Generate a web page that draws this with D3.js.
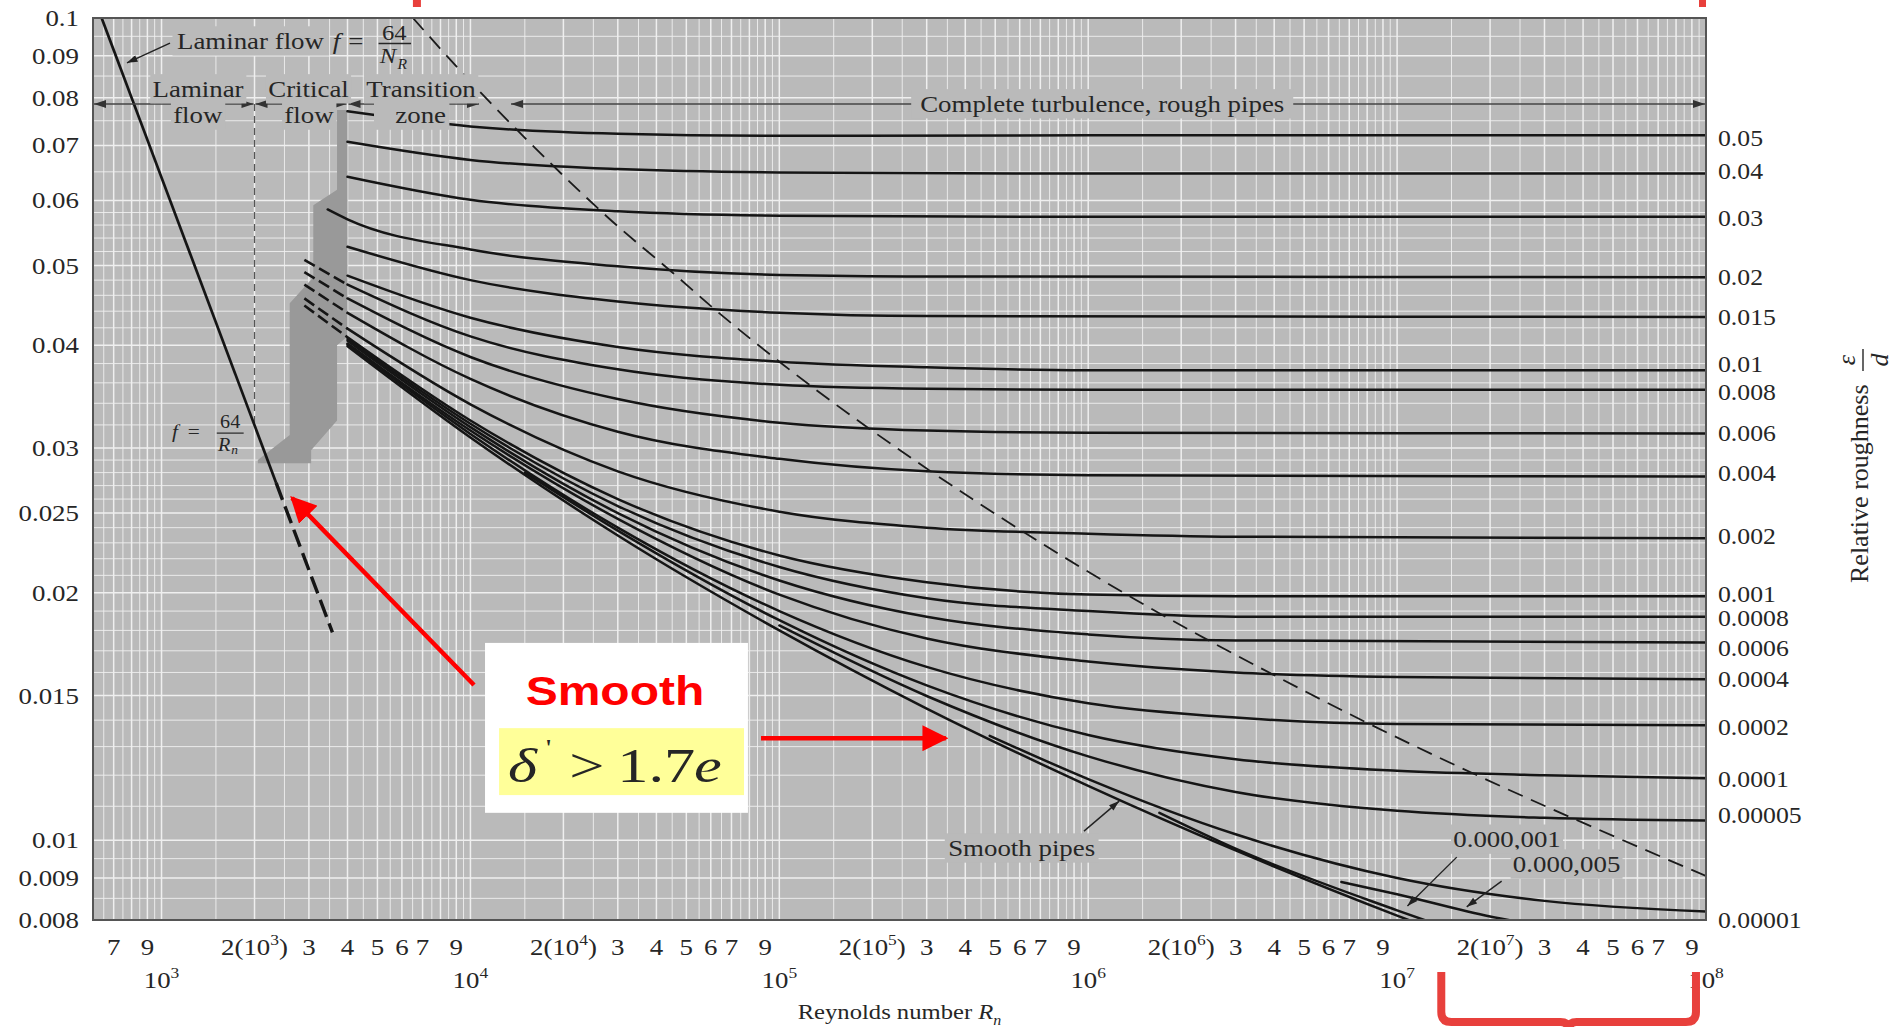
<!DOCTYPE html>
<html>
<head>
<meta charset="utf-8">
<title>Moody diagram</title>
<script src="https://d3js.org/d3.v7.min.js"></script>
<style>
  body { margin: 0; background: #fff; }
  text { font-family: "Liberation Serif", "Times New Roman", serif; fill: #262626; }
</style>
</head>
<body>
<svg id="chart" width="1895" height="1027"></svg>
<script>
// ---- values ----
const roughLabels = ["0.05", "0.04", "0.03", "0.02", "0.015", "0.01", "0.008", "0.006", "0.004",
  "0.002", "0.001", "0.0008", "0.0006", "0.0004", "0.0002", "0.0001", "0.00005", "0.00001",
  "0.000,005", "0.000,001", "smooth"];

const curveRe = [
  [4e3, 1e4, 3e4, 1e5, 1e6, 1e8],
  [4e3, 1e4, 3e4, 1e5, 1e6, 1e8],
  [4e3, 1e4, 3e4, 1e5, 1e6, 1e8],
  [3450, 4e3, 1e4, 3e4, 1e5, 3e5, 1e8],
  [4e3, 1e4, 3e4, 1e5, 3e5, 1e8],
  [4e3, 1e4, 3e4, 1e5, 3e5, 1e6, 1e8],
  [4e3, 1e4, 3e4, 1e5, 3e5, 1e6, 1e8],
  [4e3, 1e4, 3e4, 1e5, 3e5, 1e6, 1e8],
  [4e3, 1e4, 3e4, 1e5, 3e5, 1e6, 1e8],
  [4e3, 1e4, 3e4, 1e5, 3e5, 1e6, 3e6, 1e8],
  [4e3, 1e4, 3e4, 1e5, 3e5, 1e6, 3e6, 1e8],
  [4e3, 1e4, 3e4, 1e5, 3e5, 1e6, 3e6, 1e8],
  [4e3, 1e4, 3e4, 1e5, 3e5, 1e6, 3e6, 1e8],
  [4e3, 1e4, 3e4, 1e5, 3e5, 1e6, 3e6, 1e7, 1e8],
  [4e3, 1e4, 3e4, 1e5, 3e5, 1e6, 3e6, 1e7, 1e8],
  [1.5e4, 3e4, 1e5, 3e5, 1e6, 3e6, 1e7, 3e7, 1e8],
  [1e5, 3e5, 1e6, 3e6, 1e7, 3e7, 1e8],
  [4.8e5, 1e6, 3e6, 1e7, 3e7, 1e8],
  [6.6e6, 1e7, 2e7, 2.5e7],
  [1.7e6, 3e6, 1e7, 1.4e7],
  [4e3, 1e4, 3e4, 1e5, 3e5, 1e6, 3e6, 1e7, 1.2e7]
];
const curveF = [
  [0.0770, 0.0738, 0.0723, 0.0719, 0.0720, 0.0720],
  [0.0707, 0.0672, 0.0655, 0.0649, 0.0647, 0.0647],
  [0.0641, 0.0601, 0.0582, 0.0575, 0.0573, 0.0573],
  [0.0585, 0.0569, 0.0523, 0.0499, 0.0487, 0.0485, 0.0484],
  [0.0527, 0.0480, 0.0452, 0.0438, 0.0434, 0.0433],
  [0.0486, 0.0432, 0.0398, 0.0382, 0.0376, 0.0373, 0.0373],
  [0.0474, 0.0410, 0.0374, 0.0358, 0.0354, 0.0353, 0.0353],
  [0.0456, 0.0387, 0.0344, 0.0322, 0.0315, 0.0313, 0.03125],
  [0.0438, 0.0364, 0.0314, 0.0291, 0.0281, 0.0278, 0.0277],
  [0.0419, 0.0339, 0.0281, 0.0251, 0.0240, 0.0236, 0.0234, 0.0233],
  [0.0409, 0.0324, 0.0260, 0.0222, 0.0206, 0.0199, 0.0198, 0.0198],
  [0.0407, 0.0321, 0.0255, 0.0215, 0.0197, 0.0190, 0.0187, 0.0187],
  [0.0405, 0.0318, 0.0250, 0.0207, 0.0187, 0.0178, 0.0175, 0.0174],
  [0.0402, 0.0315, 0.0246, 0.0199, 0.0176, 0.0165, 0.0160, 0.0158, 0.0157],
  [0.0401, 0.0312, 0.0240, 0.0190, 0.01625, 0.01468, 0.0141, 0.01385, 0.0138],
  [0.0280, 0.0238, 0.01852, 0.01543, 0.01343, 0.01255, 0.01215, 0.0120, 0.0119],
  [0.01825, 0.01498, 0.01265, 0.01145, 0.01086, 0.01065, 0.01057],
  [0.0134, 0.01187, 0.01017, 0.0090, 0.00844, 0.00819],
  [0.0089, 0.0086, 0.00808, 0.00795],
  [0.0108, 0.00977, 0.00822, 0.00786],
  [0.0399, 0.0309, 0.02348, 0.0180, 0.01446, 0.01165, 0.00972, 0.0081, 0.00789]
];

// dashed pieces of the curves inside the critical zone
const critRe = [2900, 4000];
const critF = [[0.0508, 0.0474], [0.0491, 0.0456], [0.0474, 0.0438], [0.0456, 0.0419], [0.0447, 0.0409]];

// laminar line f = 64/Re
const laminarRe = [640, 2350];
const laminarF = [0.1, 0.0272];
const laminarDashRe = [2350, 3575];
const laminarDashF = [0.0272, 0.0179];

// dashed boundary of complete turbulence
const boundaryRe = [6514, 9850, 14950, 19660, 27870, 45170, 63710, 102700, 296600, 653600,
  1428000, 3970000, 8530000, 18300000, 38900000, 1e8];
const boundaryF = [0.1, 0.0842, 0.0716, 0.0647, 0.0572, 0.049, 0.0438, 0.0379, 0.0284, 0.0234,
  0.0196, 0.0159, 0.01373, 0.01198, 0.01055, 0.00905];

// shaded critical zone outline
const zoneRe = [4000, 4000, 3700, 3700, 3050, 3050, 2050, 2050, 2600, 2600, 3100, 3100, 3700, 3700];
const zoneF = [0.0773, 0.041, 0.040, 0.0324, 0.0298, 0.02875, 0.02875, 0.029, 0.0311, 0.045,
  0.0484, 0.0592, 0.0618, 0.0773];

// axis ticks
const yTickVals = [0.1, 0.09, 0.08, 0.07, 0.06, 0.05, 0.04, 0.03, 0.025, 0.02, 0.015, 0.01, 0.009, 0.008];
const yTickLabels = ["0.1", "0.09", "0.08", "0.07", "0.06", "0.05", "0.04", "0.03", "0.025", "0.02",
  "0.015", "0.01", "0.009", "0.008"];
const xTickVals = [700, 900, 2e3, 3e3, 4e3, 5e3, 6e3, 7e3, 9e3, 2e4, 3e4, 4e4, 5e4, 6e4, 7e4, 9e4,
  2e5, 3e5, 4e5, 5e5, 6e5, 7e5, 9e5, 2e6, 3e6, 4e6, 5e6, 6e6, 7e6, 9e6,
  2e7, 3e7, 4e7, 5e7, 6e7, 7e7, 9e7];
const xTickLabels = ["7", "9", "2(10^3)", "3", "4", "5", "6", "7", "9", "2(10^4)", "3", "4", "5", "6", "7", "9",
  "2(10^5)", "3", "4", "5", "6", "7", "9", "2(10^6)", "3", "4", "5", "6", "7", "9",
  "2(10^7)", "3", "4", "5", "6", "7", "9"];
const xDecadeVals = [1e3, 1e4, 1e5, 1e6, 1e7, 1e8];
const xDecadeLabels = ["10^3", "10^4", "10^5", "10^6", "10^7", "10^8"];

// ---- drawing ----
const svg = d3.select("#chart");
const plotBg = "#bababa";
const x = d3.scaleLog().domain([600, 1e8]).range([93, 1706]);
const y = d3.scaleLog().domain([0.1, 0.008]).range([18, 920]);
const [x0, x1] = x.range(), [y0, y1] = y.range();

svg.append("rect").attr("width", 1895).attr("height", 1027).attr("fill", "#fff");
const defs = svg.append("defs");
defs.append("clipPath").attr("id", "clip").append("rect")
  .attr("x", x0).attr("y", y0).attr("width", x1 - x0).attr("height", y1 - y0);
defs.append("marker").attr("id", "arr").attr("viewBox", "0 0 12 8")
  .attr("refX", 12).attr("refY", 4).attr("markerWidth", 13).attr("markerHeight", 8)
  .attr("markerUnits", "userSpaceOnUse").attr("orient", "auto-start-reverse")
  .append("path").attr("d", "M0,0 L12,4 L0,8 Z").attr("fill", "#333");
defs.append("marker").attr("id", "arrThin").attr("viewBox", "0 0 12 8")
  .attr("refX", 12).attr("refY", 4).attr("markerWidth", 12).attr("markerHeight", 7)
  .attr("markerUnits", "userSpaceOnUse").attr("orient", "auto")
  .append("path").attr("d", "M0,0 L12,4 L0,8 Z").attr("fill", "#222");

svg.append("rect").attr("x", x0).attr("y", y0).attr("width", x1 - x0).attr("height", y1 - y0)
  .attr("fill", plotBg);

// grid
const xGrid = [];
for (let e = 2; e < 8; e++) for (let m = 1; m < 10; m += 0.5) {
  const v = m * Math.pow(10, e);
  if (v >= 600 && v <= 1e8) xGrid.push(v);
}
const yGrid = [];
[[0.008, 0.01, 0.0005], [0.01, 0.03, 0.001], [0.03, 0.06, 0.002], [0.06, 0.1, 0.005]].forEach(([a, b, s]) => {
  for (let v = a; v < b - 1e-9; v += s) yGrid.push(+v.toFixed(5));
});
const isMajor = v => {
  const m = v / Math.pow(10, Math.floor(Math.log10(v) + 1e-9));
  return Math.abs(m - Math.round(m)) < 1e-6;
};
const grid = svg.append("g").attr("stroke", "#efefef");
grid.selectAll("line.v").data(xGrid).join("line").attr("class", "v")
  .attr("x1", d => x(d)).attr("x2", d => x(d)).attr("y1", y0).attr("y2", y1)
  .attr("stroke-width", d => isMajor(d) ? 1.5 : 0.9);
grid.selectAll("line.h").data(yGrid).join("line").attr("class", "h")
  .attr("y1", d => y(d)).attr("y2", d => y(d)).attr("x1", x0).attr("x2", x1)
  .attr("stroke-width", d => yTickVals.includes(d) ? 1.5 : 0.9);

const plotG = svg.append("g").attr("clip-path", "url(#clip)");
const line = d3.line().x(d => x(d[0])).y(d => y(d[1]));
const zip = (a, b) => a.map((v, i) => [v, b[i]]);

// critical zone
plotG.append("path").datum(zip(zoneRe, zoneF)).attr("d", d => line(d) + "Z").attr("fill", "#999");

// vertical dashed line at Re = 2000
plotG.append("line").attr("x1", x(2000)).attr("x2", x(2000)).attr("y1", y(0.0786)).attr("y2", y(0.032))
  .attr("stroke", "#555").attr("stroke-width", 1.3).attr("stroke-dasharray", "7,5");

// roughness curves
const smoothLine = d3.line().x(d => x(d[0])).y(d => y(d[1])).curve(d3.curveMonotoneX);
plotG.selectAll("path.curve").data(curveRe.map((r, i) => zip(r, curveF[i]))).join("path")
  .attr("class", "curve").attr("d", smoothLine).attr("fill", "none")
  .attr("stroke", "#151515").attr("stroke-width", 2.5).attr("stroke-linecap", "round");
plotG.selectAll("path.crit").data(critF.map(f => zip(critRe, f))).join("path")
  .attr("class", "crit").attr("d", line).attr("fill", "none")
  .attr("stroke", "#151515").attr("stroke-width", 2.6).attr("stroke-dasharray", "12,5");

// laminar line
plotG.append("path").datum(zip(laminarRe, laminarF)).attr("d", line)
  .attr("stroke", "#151515").attr("stroke-width", 2.7).attr("fill", "none");
plotG.append("path").datum(zip(laminarDashRe, laminarDashF)).attr("d", line)
  .attr("stroke", "#151515").attr("stroke-width", 3.4).attr("fill", "none").attr("stroke-dasharray", "18,7");

// boundary of complete turbulence
plotG.append("path").datum(zip(boundaryRe, boundaryF)).attr("d", smoothLine)
  .attr("stroke", "#1a1a1a").attr("stroke-width", 1.8).attr("fill", "none").attr("stroke-dasharray", "16,9");

// ---- text helper (the scanned chart is stretched sideways) ----
function parseSup(s) {
  return s.split(/\^(\S)/).map((t, i) => ({ t, sup: i % 2 === 1 })).filter(p => p.t);
}
function addText(parent, px, py, parts, o = {}) {
  const size = o.size || 24, sx = o.sx || 1.12;
  const g = parent.append("g").attr("transform", `translate(${px},${py}) scale(${sx},1)`);
  const t = g.append("text").attr("font-size", size).attr("text-anchor", o.anchor || "start");
  if (o.fill) t.style("fill", o.fill);
  if (o.weight) t.attr("font-weight", o.weight);
  if (o.family) t.style("font-family", o.family);
  let off = 0;
  (typeof parts === "string" ? parseSup(parts) : parts).forEach(p => {
    const target = p.sup ? -size * 0.4 : p.sub ? size * 0.25 : 0;
    const s = t.append("tspan").text(p.t).attr("dy", target - off);
    if (p.sup || p.sub) s.attr("font-size", size * 0.65);
    if (p.it) s.style("font-style", "italic");
    off = target;
  });
  if (o.bg) {
    const b = t.node().getBBox(), pad = o.pad || 3, padL = o.padL || 0;
    g.insert("rect", "text").attr("x", b.x - pad - padL).attr("y", b.y - 1)
      .attr("width", b.width + 2 * pad + padL).attr("height", b.height + 2).attr("fill", plotBg);
  }
  return g;
}

const labels = svg.append("g").attr("clip-path", "url(#clip)");

// band with arrows across the top
const bandF = 0.0786;
[[600, 2000], [2000, 4000], [4000, 10740], [13430, 1e8]].forEach(([a, b]) => {
  labels.append("line").attr("x1", x(a) + 1).attr("x2", x(b) - 1).attr("y1", y(bandF)).attr("y2", y(bandF))
    .attr("stroke", "#444").attr("stroke-width", 1.6)
    .attr("marker-start", "url(#arr)").attr("marker-end", "url(#arr)");
});
addText(labels, x(1313), y(0.0802), "Laminar", { anchor: "middle", bg: true, pad: 2 });
addText(labels, x(1310), y(0.0745), "flow", { anchor: "middle", bg: true, pad: 2 });
addText(labels, x(2991), y(0.0802), "Critical", { anchor: "middle", bg: true, pad: 2 });
addText(labels, x(3000), y(0.0745), "flow", { anchor: "middle", bg: true, pad: 2 });
addText(labels, x(6920), y(0.0802), "Transition", { anchor: "middle", bg: true, pad: 2 });
addText(labels, x(6900), y(0.0745), "zone", { anchor: "middle", bg: true, pad: 3, padL: 16 });
addText(labels, x(1.11e6), y(0.0769), "Complete turbulence, rough pipes", { anchor: "middle", bg: true, pad: 8 });

// "Laminar flow f = 64/N_R"
const lam = addText(labels, x(1122), y(0.0917), "Laminar flow", { bg: true, pad: 4 });
lam.append("text").attr("x", 139).attr("font-size", 24).style("font-style", "italic").text("f");
lam.append("text").attr("x", 153).attr("font-size", 24).text("=");
lam.append("text").attr("x", 194).attr("y", -9).attr("font-size", 22).attr("text-anchor", "middle").text("64");
lam.append("line").attr("x1", 180).attr("x2", 209).attr("y1", -5.5).attr("y2", -5.5).attr("stroke", "#262626").attr("stroke-width", 1.4);
lam.append("text").attr("x", 181).attr("y", 14).attr("font-size", 22).style("font-style", "italic").text("N");
lam.append("text").attr("x", 197).attr("y", 20).attr("font-size", 14).style("font-style", "italic").text("R");
labels.append("line").attr("x1", x(1065)).attr("y1", y(0.0932)).attr("x2", x(773)).attr("y2", y(0.0882))
  .attr("stroke", "#222").attr("stroke-width", 1.5).attr("marker-end", "url(#arrThin)");

// "f = 64/R_n"
const lam2 = addText(labels, x(1081), y(0.03084), [{ t: "f", it: true }], { size: 19 });
lam2.append("text").attr("x", 14).attr("font-size", 19).text("=");
lam2.append("text").attr("x", 52).attr("y", -10).attr("font-size", 18).attr("text-anchor", "middle").text("64");
lam2.append("line").attr("x1", 40).attr("x2", 64).attr("y1", -5).attr("y2", -5).attr("stroke", "#262626").attr("stroke-width", 1.2);
lam2.append("text").attr("x", 41).attr("y", 13).attr("font-size", 18).style("font-style", "italic").text("R");
lam2.append("text").attr("x", 53).attr("y", 16).attr("font-size", 12).style("font-style", "italic").text("n");

// smooth pipes and the two tiny roughness labels
addText(labels, x(3.52e5), y(0.00957), "Smooth pipes", { bg: true, pad: 3 });
labels.append("line").attr("x1", x(9.69e5)).attr("y1", y(0.01026)).attr("x2", x(1.26e6)).attr("y2", y(0.01116))
  .attr("stroke", "#222").attr("stroke-width", 1.4).attr("marker-end", "url(#arrThin)");
addText(labels, x(1.52e7), y(0.00981), "0.000,001", { bg: true, pad: 2 });
labels.append("line").attr("x1", x(1.56e7)).attr("y1", y(0.00954)).attr("x2", x(1.08e7)).attr("y2", y(0.00832))
  .attr("stroke", "#222").attr("stroke-width", 1.4).attr("marker-end", "url(#arrThin)");
addText(labels, x(2.37e7), y(0.00915), "0.000,005", { bg: true, pad: 2 });
labels.append("line").attr("x1", x(2.18e7)).attr("y1", y(0.00892)).attr("x2", x(1.68e7)).attr("y2", y(0.0083))
  .attr("stroke", "#222").attr("stroke-width", 1.4).attr("marker-end", "url(#arrThin)");

// frame
svg.append("rect").attr("x", x0).attr("y", y0).attr("width", x1 - x0).attr("height", y1 - y0)
  .attr("fill", "none").attr("stroke", "#555").attr("stroke-width", 2);

// y ticks
yTickVals.forEach((v, i) => addText(svg, 79, y(v) + 8, yTickLabels[i], { anchor: "end" }));
// x ticks
xTickVals.forEach((v, i) => addText(svg, x(v), 955, xTickLabels[i], { anchor: "middle" }));
xDecadeVals.forEach((v, i) => addText(svg, x(v), 988, xDecadeLabels[i], { anchor: "middle" }));
addText(svg, (x0 + x1) / 2, 1019, [{ t: "Reynolds number " }, { t: "R", it: true }, { t: "n", sub: true, it: true }],
  { anchor: "middle", size: 22 });

// right-hand roughness labels (at the end of each curve, nudged apart like the original)
const labelNudge = [3, -2, 1, 0, 0, -6, 2, 0, -3, -2, -2, 1, 5, 0, 2, 1, -6, 8];
roughLabels.forEach((lab, i) => {
  const re = curveRe[i], f = curveF[i];
  if (re[re.length - 1] < 1e8) return;
  addText(svg, 1718, y(f[f.length - 1]) + 8 + (labelNudge[i] || 0), lab, { size: 23 });
});

// right axis title
const rt = svg.append("g").attr("transform", "translate(1868,480) rotate(-90)");
rt.append("text").attr("x", -103).attr("font-size", 26).text("Relative roughness");
rt.append("text").attr("x", 120).attr("y", -13).attr("font-size", 26).attr("text-anchor", "middle").style("font-style", "italic").text("ε");
rt.append("line").attr("x1", 109).attr("x2", 131).attr("y1", -5).attr("y2", -5).attr("stroke", "#262626").attr("stroke-width", 1.4);
rt.append("text").attr("x", 120).attr("y", 20).attr("font-size", 26).attr("text-anchor", "middle").style("font-style", "italic").text("d");

// ---- red overlay annotations ----
const red = "#ff0000", redB = "#e8403c";
defs.append("marker").attr("id", "redHead").attr("viewBox", "0 0 10 10")
  .attr("refX", 9).attr("refY", 5).attr("markerWidth", 26).attr("markerHeight", 26)
  .attr("markerUnits", "userSpaceOnUse").attr("orient", "auto")
  .append("path").attr("d", "M0,0 L10,5 L0,10 Z").attr("fill", red);
svg.append("line").attr("x1", x(10270)).attr("y1", y(0.01545)).attr("x2", x(2645)).attr("y2", y(0.02608))
  .attr("stroke", red).attr("stroke-width", 4.5).attr("marker-end", "url(#redHead)");
svg.append("line").attr("x1", x(87250)).attr("y1", y(0.01331)).attr("x2", x(3.46e5)).attr("y2", y(0.01331))
  .attr("stroke", red).attr("stroke-width", 4.5).attr("marker-end", "url(#redHead)");

// white note box
svg.append("rect").attr("x", x(11150)).attr("y", y(0.01738))
  .attr("width", x(79150) - x(11150)).attr("height", y(0.0108) - y(0.01738)).attr("fill", "#fff");
svg.append("rect").attr("x", x(12380)).attr("y", y(0.01369))
  .attr("width", x(76860) - x(12380)).attr("height", y(0.01135) - y(0.01369)).attr("fill", "#ffff99");
addText(svg, x(29380), y(0.0146), "Smooth", { anchor: "middle", size: 40, sx: 1.2, weight: "bold",
  fill: red, family: "'Liberation Sans', Arial, sans-serif" });
const eq = addText(svg, x(13240), y(0.01177), [{ t: "δ", it: true }], { size: 48, sx: 1.3 });
eq.append("text").attr("x", 29).attr("y", -27).attr("font-size", 24).text("'");
eq.append("text").attr("x", 47).attr("font-size", 48).text(">");
eq.append("text").attr("x", 84).attr("font-size", 48).text("1.7");
eq.append("text").attr("x", 143).attr("font-size", 48).style("font-style", "italic").text("e");

// red marks along the top edge and the brace under the axis
[[x(6514), x(6514) + 8], [x(1e8) - 7, x(1e8)]].forEach(([a, b]) => {
  svg.append("rect").attr("x", a).attr("y", 0).attr("width", b - a).attr("height", 7).attr("fill", redB);
});
const bl = x(1.39e7), br = x(9.28e7), bc = (bl + br) / 2, bt = 972, bm = 1022;
svg.append("path")
  .attr("d", `M${bl},${bt} V${bm - 10} Q${bl},${bm} ${bl + 10},${bm} H${bc - 8} Q${bc},${bm} ${bc},${bm + 8}` +
    ` Q${bc},${bm} ${bc + 8},${bm} H${br - 10} Q${br},${bm} ${br},${bm - 10} V${bt}`)
  .attr("fill", "none").attr("stroke", redB).attr("stroke-width", 8);
</script>
</body>
</html>
